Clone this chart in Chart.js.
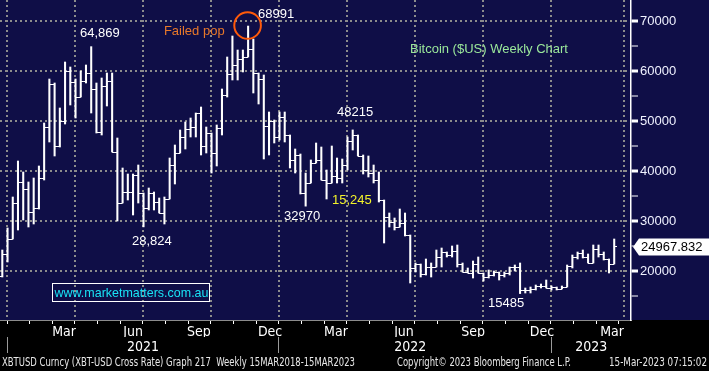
<!DOCTYPE html>
<html>
<head>
<meta charset="utf-8">
<script src="https://cdn.jsdelivr.net/npm/chart.js@4.4.0/dist/chart.umd.min.js"></script>
<style>
  html, body { margin: 0; padding: 0; background: #000; }
  canvas { display: block; background: linear-gradient(#0f0e47 0, #0f0e47 320px, #000 320px, #000 100%); }
</style>
</head>
<body>
<canvas id="btc" width="709" height="371"></canvas>
<script>
// XBTUSD weekly bars, late Dec 2020 -> 15 Mar 2023
const opens = [
  19000, 23400, 26400, 33600, 37800, 36400, 31800, 32600, 38600, 48800,
  57400, 45000, 50000, 60000, 57800, 54800, 58000, 59600, 56400, 47800,
  57000, 58000, 43800, 33600, 35800, 35800, 39200, 35600, 32600, 35600,
  33800, 31600, 34400, 41200, 43600, 46800, 48400, 48800, 51600, 45000,
  47600, 43600, 48600, 55200, 59400, 61200, 62400, 62800, 64400, 59600,
  58400, 49000, 50000, 46800, 50800, 47200, 42200, 43200, 35600, 37600,
  41600, 42200, 38200, 37600, 39000, 38600, 41200, 46000, 47200, 43000,
  40200, 39600, 38200, 34200, 30800, 29800, 28800, 29600, 27200, 20600,
  21400, 19400, 20800, 20800, 22800, 23800, 23200, 24000, 21400, 19800,
  19600, 21400, 19600, 18800, 19200, 19800, 19200, 19600, 20800, 20800,
  16200, 16200, 16400, 17000, 17000, 16600, 16800, 16400, 16800, 21000,
  22800, 23600, 22800, 21600, 24400, 23400, 22400, 21400
];
const highs = [
  24200, 28600, 34800, 42000, 39800, 37800, 38600, 41000, 49600, 58400,
  57600, 52600, 61800, 60800, 58400, 60000, 61200, 64869, 57600, 58600,
  59600, 59600, 46600, 40600, 39400, 39400, 41200, 35600, 36600, 35800,
  34600, 34800, 42600, 45200, 48200, 49800, 50600, 51600, 52800, 48800,
  47600, 49200, 56400, 62800, 67000, 64200, 64200, 68991, 66400, 59600,
  59200, 51800, 50200, 51800, 51800, 47200, 44400, 43400, 39600, 42200,
  45600, 44800, 40200, 45000, 42600, 42400, 46800, 48215, 47200, 43200,
  43000, 41200, 39800, 34200, 31600, 30600, 32400, 31600, 27200, 21600,
  21400, 22400, 21600, 24200, 24600, 23800, 25000, 25200, 21600, 20600,
  22000, 22800, 19600, 20200, 20000, 19800, 19800, 20800, 21200, 21600,
  16600, 16800, 17200, 17400, 18200, 17000, 16800, 17000, 21200, 23200,
  23800, 24200, 23400, 25200, 25200, 23800, 22400, 26400
];
const lows = [
  18800, 21800, 26400, 28200, 30200, 28800, 29400, 32400, 38200, 45800,
  43000, 44800, 49400, 53200, 50600, 54800, 57600, 51600, 47600, 47200,
  53000, 43800, 30000, 33600, 34200, 31200, 33600, 28824, 32200, 32200,
  31600, 29400, 34400, 37400, 43600, 44400, 46800, 46800, 43200, 43600,
  39600, 41000, 47200, 54800, 58200, 58200, 59800, 62800, 55600, 53400,
  42400, 43200, 45600, 46200, 45800, 40600, 39600, 35400, 32970, 37600,
  41600, 38200, 34400, 37600, 37600, 37600, 40200, 44200, 43000, 39400,
  38800, 37600, 33800, 25600, 28800, 28200, 28800, 27000, 17600, 19800,
  18800, 19200, 18800, 20800, 20800, 22800, 22800, 20800, 19800, 19600,
  18600, 19600, 18000, 18600, 19000, 18200, 18800, 19200, 20000, 15485,
  15600, 15600, 16200, 16600, 16600, 16200, 16200, 16400, 16800, 20600,
  22400, 22600, 21600, 21600, 22800, 22200, 19600, 21400
];
const closes = [
  23400, 26400, 33600, 37800, 36400, 31800, 32600, 38600, 48800, 57400,
  45000, 50000, 60000, 57800, 54800, 58000, 59600, 56400, 47800, 57000,
  58000, 43800, 33600, 35800, 35800, 39200, 35600, 32600, 35600, 33800,
  31600, 34400, 41200, 43600, 46800, 48400, 48800, 51600, 45000, 47600,
  43600, 48600, 55200, 59400, 61200, 62400, 62800, 64400, 59600, 58400,
  49000, 50000, 46800, 50800, 47200, 42200, 43200, 35600, 37600, 41600,
  42200, 38200, 37600, 39000, 38600, 41200, 46000, 47200, 43000, 40200,
  39600, 38200, 34200, 30800, 29800, 28800, 29600, 27200, 20600, 21400,
  19400, 20800, 20800, 22800, 23800, 23200, 24000, 21400, 19800, 19600,
  21400, 19600, 18800, 19200, 19800, 19200, 19600, 20800, 20800, 16200,
  16200, 16400, 17000, 17000, 16600, 16800, 16400, 16800, 21000, 22800,
  23600, 22800, 21600, 24400, 23400, 22400, 21400, 24967.832
];

// axis positions are in week units (bar i sits at x = i)
const quarterGrid = [0.9, 13.9, 26.9, 39.9, 52.9, 65.9, 78.9, 91.9, 104.9, 118.9];
const monthLabels = ['Mar', 'Jun', 'Sep', 'Dec', 'Mar', 'Jun', 'Sep', 'Dec', 'Mar'];
const monthPos = [11.8, 25.0, 37.6, 51.2, 63.8, 76.8, 90.0, 103.2, 116.6];
const yearLabels = ['2021', '2022', '2023'];
const yearPos = [26.9, 78.0, 112.6];
const yearSeps = [0.9, 52.9, 105.0];
const yTicks = [15000, 20000, 25000, 30000, 35000, 40000, 45000, 50000, 55000, 60000, 65000, 70000];

const monthMarks = [];
for (let k = 0; k <= 27; k++) monthMarks.push(0.9 + k * 13 / 3);

const notes = [
  { text: '64,869', x: 14.86, y: 67600, color: '#ffffff' },
  { text: 'Failed pop', x: 30.9, y: 68000, color: '#e8782a' },
  { text: '68991', x: 48.9, y: 71400, color: '#ffffff' },
  { text: 'Bitcoin ($US) Weekly Chart', x: 77.95, y: 64400, color: '#9be89b' },
  { text: '48215', x: 64.0, y: 51800, color: '#ffffff' },
  { text: '15,245', x: 63.04, y: 34200, color: '#f2f22a' },
  { text: '32970', x: 53.86, y: 31000, color: '#ffffff' },
  { text: '28,824', x: 24.8, y: 26000, color: '#ffffff' },
  { text: '15485', x: 92.87, y: 13600, color: '#ffffff' }
];

const XMIN = -0.44, XMAX = 120.21;
const SANS = '"Liberation Sans", Arial, sans-serif';
const NARROW = '"Liberation Sans Narrow", "DejaVu Sans Condensed", "Arial Narrow", sans-serif';

function fixedTicks(list, h) {
  return {
    afterBuildTicks: s => { s.ticks = list.map(v => ({ value: v })); },
    afterFit: s => { s.height = h; s.paddingLeft = 0; s.paddingRight = 0; }
  };
}

const overlay = {
  id: 'overlay',
  afterDatasetsDraw(chart) {
    const ctx = chart.ctx;
    const y = chart.scales.y;
    const meta = chart.getDatasetMeta(0);
    ctx.save();
    ctx.strokeStyle = '#ffffff';
    ctx.lineWidth = 1;
    meta.data.forEach((bar, i) => {
      const cx = bar.x;
      const yo = Math.round(y.getPixelForValue(opens[i])) + 0.5;
      const yc = Math.round(y.getPixelForValue(closes[i])) + 0.5;
      ctx.beginPath();
      ctx.moveTo(cx - 2.8, yo); ctx.lineTo(cx, yo);
      ctx.moveTo(cx, yc); ctx.lineTo(cx + 2.8, yc);
      ctx.stroke();
    });
    ctx.restore();
  },
  afterDraw(chart) {
    const { ctx, chartArea } = chart;
    const x = chart.scales.x, y = chart.scales.y;
    ctx.save();
    ctx.textBaseline = 'middle';
    ctx.textAlign = 'left';
    ctx.font = '13px ' + SANS;
    notes.forEach(n => {
      ctx.fillStyle = n.color;
      ctx.fillText(n.text, x.getPixelForValue(n.x), y.getPixelForValue(n.y));
    });

    // circle round the top
    ctx.strokeStyle = '#ff5a0a';
    ctx.lineWidth = 2;
    ctx.beginPath();
    ctx.arc(x.getPixelForValue(46.9), y.getPixelForValue(69100), 13.3, 0, Math.PI * 2);
    ctx.stroke();

    // website box
    const bx0 = Math.round(x.getPixelForValue(9.5)) + 0.5;
    const bx1 = Math.round(x.getPixelForValue(39.5)) + 0.5;
    const by0 = Math.round(y.getPixelForValue(17600)) + 0.5;
    const by1 = Math.round(y.getPixelForValue(14000)) + 0.5;
    ctx.strokeStyle = '#ffffff';
    ctx.lineWidth = 1;
    ctx.strokeRect(bx0, by0, bx1 - bx0, by1 - by0);
    ctx.fillStyle = '#19e3f5';
    ctx.fillText('www.marketmatters.com.au', bx0 + 2, (by0 + by1) / 2 + 0.5, bx1 - bx0 - 3);

    // last price flag
    const last = closes[closes.length - 1];
    const py = Math.round(y.getPixelForValue(last)) + 1;
    const ax = chartArea.right + 2;
    ctx.fillStyle = '#ffffff';
    ctx.beginPath();
    ctx.moveTo(ax, py);
    ctx.lineTo(ax + 6, py - 8.5);
    ctx.lineTo(chart.width, py - 8.5);
    ctx.lineTo(chart.width, py + 8.5);
    ctx.lineTo(ax + 6, py + 8.5);
    ctx.closePath();
    ctx.fill();
    ctx.fillStyle = '#000000';
    ctx.font = '13px ' + SANS;
    ctx.fillText(last.toFixed(3), ax + 8, py + 0.5);

    // footer line
    ctx.fillStyle = '#e8e8e8';
    ctx.font = '12px ' + NARROW;
    ctx.fillText('XBTUSD Curncy (XBT-USD Cross Rate) Graph 217  Weekly 15MAR2018-15MAR2023', 2, 363, 353);
    ctx.fillText('Copyright\u00a9 2023 Bloomberg Finance L.P.', 397, 363, 174);
    ctx.textAlign = 'right';
    ctx.fillText('15-Mar-2023 07:15:02', 707, 363, 98);
    ctx.restore();
  }
};

new Chart(document.getElementById('btc'), {
  type: 'bar',
  data: {
    datasets: [{
      data: highs.map((h, i) => ({ x: i, y: [lows[i], h] })),
      backgroundColor: '#ffffff',
      borderWidth: 0,
      borderSkipped: false,
      barThickness: 1.4,
      grouped: false
    }]
  },
  options: {
    responsive: false,
    devicePixelRatio: 1,
    animation: false,
    layout: { padding: { left: 0, top: 0, right: 0, bottom: 16 } },
    plugins: { legend: { display: false }, tooltip: { enabled: false } },
    scales: {
      x: {
        axis: 'x', type: 'linear', position: 'bottom', weight: 0, min: XMIN, max: XMAX, offset: false,
        ...fixedTicks(quarterGrid, 0),
        ticks: { display: false },
        grid: { color: '#8c8c8c', lineWidth: 2, drawTicks: false, offset: false },
        border: { color: '#8c8c8c', width: 1, dash: [2, 3] }
      },
      xt: {
        axis: 'x', type: 'linear', position: 'bottom', weight: 1, min: XMIN, max: XMAX, offset: false,
        ...fixedTicks(monthMarks, 4),
        ticks: { display: false },
        grid: { drawOnChartArea: false, tickLength: 4, tickColor: '#ffffff', tickWidth: 1, offset: false },
        border: { display: false }
      },
      xm: {
        axis: 'x', type: 'linear', position: 'bottom', weight: 2, min: XMIN, max: XMAX, offset: false,
        ...fixedTicks(monthPos, 13),
        ticks: {
          autoSkip: false, maxRotation: 0, padding: 0, color: '#ffffff',
          font: { family: NARROW, size: 14 },
          callback: (v, i) => monthLabels[i]
        },
        grid: { display: false, drawTicks: false, offset: false },
        border: { display: false }
      },
      xs: {
        axis: 'x', type: 'linear', position: 'bottom', weight: 3, min: XMIN, max: XMAX, offset: false,
        ...fixedTicks(yearSeps, 0),
        ticks: { display: false },
        grid: { drawOnChartArea: false, tickLength: 16, tickColor: '#9a9a9a', tickWidth: 1, offset: false },
        border: { display: false }
      },
      xy: {
        axis: 'x', type: 'linear', position: 'bottom', weight: 4, min: XMIN, max: XMAX, offset: false,
        ...fixedTicks(yearPos, 18),
        ticks: {
          autoSkip: false, maxRotation: 0, padding: 2, color: '#ffffff',
          font: { family: NARROW, size: 14 },
          callback: (v, i) => yearLabels[i]
        },
        grid: { display: false, drawTicks: false, offset: false },
        border: { display: false }
      },
      y: {
        type: 'linear', position: 'right', min: 10200, max: 74200,
        afterBuildTicks: s => { s.ticks = yTicks.map(v => ({ value: v })); },
        afterFit: s => { s.width = 78; s.paddingTop = 0; s.paddingBottom = 0; },
        ticks: {
          autoSkip: false, padding: 2, color: '#f0f2ff',
          font: { family: SANS, size: 13 },
          callback: v => (v % 10000 === 0 ? String(v) : '')
        },
        grid: {
          color: c => (c.tick && c.tick.value % 10000 === 0 ? '#8c8c8c' : 'rgba(0,0,0,0)'),
          lineWidth: 2,
          tickLength: 7,
          tickColor: '#ffffff',
          tickWidth: c => (c.tick && c.tick.value % 10000 === 0 ? 3 : 1)
        },
        border: { color: '#ffffff', width: 1.5, dash: [2, 3] }
      }
    }
  },
  plugins: [overlay]
});
</script>
</body>
</html>
